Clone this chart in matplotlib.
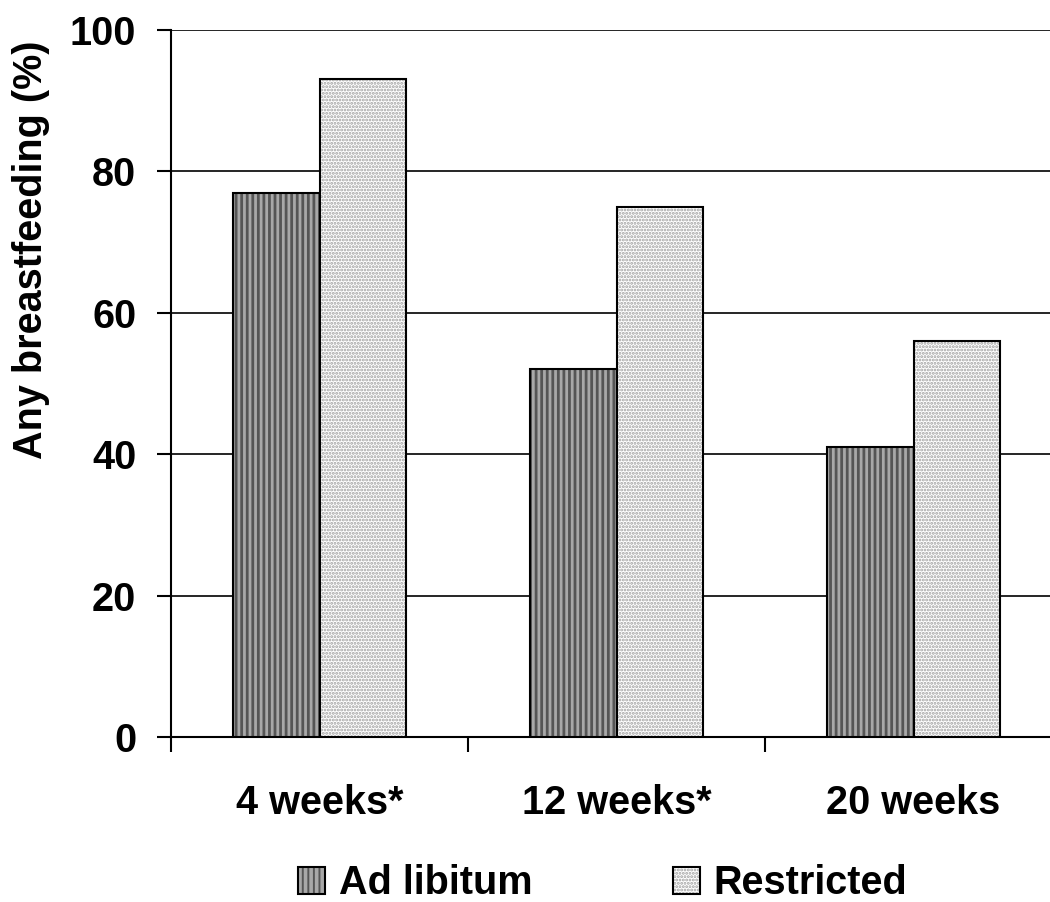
import matplotlib
matplotlib.use("Agg")
import matplotlib.pyplot as plt
import matplotlib.colors as mcolors
import numpy as np

categories = ["4 weeks*", "12 weeks*", "20 weeks"]
ad_libitum = [77, 52, 41]
restricted = [93, 75, 56]
series_names = ["Ad libitum", "Restricted"]
y_ticks = [0, 20, 40, 60, 80, 100]

plt.rcParams['font.family'] = ['Liberation Sans', 'DejaVu Sans']
plt.rcParams['font.weight'] = 'bold'

FS = 28.5
fig = plt.figure(figsize=(10.5, 9.02), dpi=100)
W, H = 1050, 902
left, right, top, bottom = 171, 1062, 30, 737
ax = fig.add_axes([left / W, 1 - bottom / H, (right - left) / W, (bottom - top) / H])

x = np.arange(len(categories))
bw = 0.29
plt.rcParams['hatch.linewidth'] = 2.0
b1 = ax.bar(x - bw / 2, ad_libitum, bw, facecolor='#a8a8a8', edgecolor='black',
            hatch='|||', linewidth=1.5, label=series_names[0], zorder=3)
for p in b1:
    p._hatch_color = mcolors.to_rgba('#555555')
plt.rcParams['hatch.linewidth'] = 1.4
b2 = ax.bar(x + bw / 2, restricted, bw, facecolor='white', edgecolor='black',
            hatch='.....', linewidth=1.5, label=series_names[1], zorder=3)
for p in b2:
    p._hatch_color = mcolors.to_rgba('#a0a0a0')

ax.set_xlim(-0.5, 2.5)
ax.set_ylim(0, 100)
ax.set_yticks(y_ticks)
ax.set_yticklabels([str(v) for v in y_ticks], fontsize=FS, fontweight='bold')
ax.yaxis.grid(True, color='black', linewidth=1.2, zorder=0)
ax.set_axisbelow(True)

ax.set_xticks([-0.5, 0.5, 1.5, 2.5])
ax.set_xticklabels([])
ax.set_xticks(x, minor=True)
ax.set_xticklabels(categories, minor=True, fontsize=FS, fontweight='bold')
ax.tick_params(axis='x', which='minor', length=0, pad=34)
ax.tick_params(axis='x', which='major', length=11, width=1.5, direction='out')
ax.tick_params(axis='y', length=10, width=1.5, direction='out', pad=15)

for s in ['top', 'right']:
    ax.spines[s].set_visible(False)
ax.spines['left'].set_linewidth(1.5)
ax.spines['bottom'].set_linewidth(1.5)

ax.set_ylabel("Any breastfeeding (%)", fontsize=FS, fontweight='bold', va='center')
ax.yaxis.set_label_coords((31 - left) / (right - left), 1 - (250 - top) / (bottom - top))

fig.legend(loc='center left', bbox_to_anchor=(298 / W, 1 - 883 / H), ncol=2, frameon=False,
           handlelength=0.68, handleheight=0.68, columnspacing=3.55,
           handletextpad=0.35, borderpad=0, borderaxespad=0,
           prop={'weight': 'bold', 'size': FS})

fig.savefig("out.png", dpi=100)
